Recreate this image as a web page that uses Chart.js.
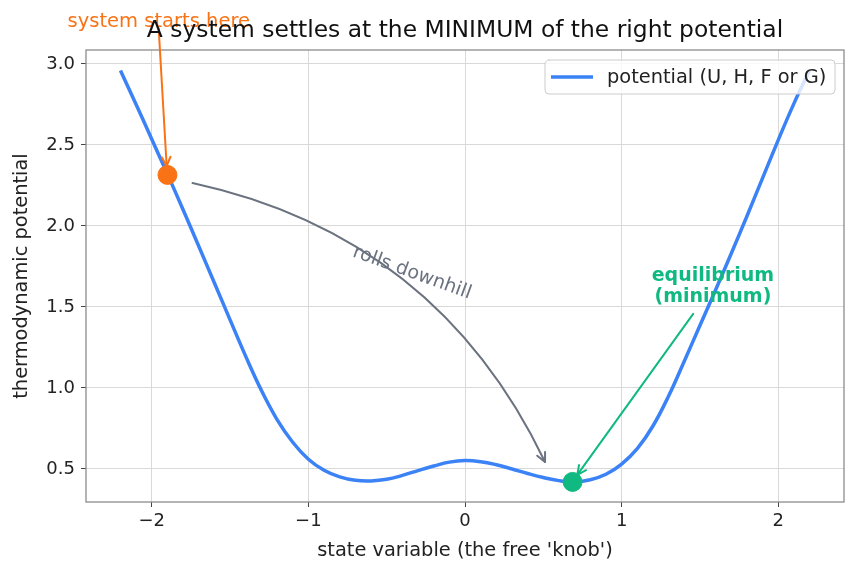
<!DOCTYPE html>
<html>
<head>
<meta charset="utf-8">
<script src="https://cdn.jsdelivr.net/npm/chart.js@4.4.1/dist/chart.umd.min.js"></script>
<style>
  body { margin: 0; background: #fff; }
  canvas { display: block; }
</style>
</head>
<body>
<canvas id="potentialChart" width="859" height="576"></canvas>
<script>
// state variable samples and the potential
const stateX = [
    -2.2, -2.1, -2.0, -1.9, -1.8, -1.7, -1.6, -1.5, -1.4, -1.3, -1.2, -1.1, -1.0,
    -0.9, -0.8, -0.7, -0.6, -0.5, -0.4, -0.3, -0.2, -0.1, 0.0,
    0.1, 0.2, 0.3, 0.4, 0.5, 0.6, 0.7, 0.8, 0.9, 1.0,
    1.1, 1.2, 1.3, 1.4, 1.5, 1.6, 1.7, 1.8, 1.9, 2.0, 2.1, 2.2
];
const potential = [
    2.96, 2.75, 2.535, 2.32, 2.10, 1.875, 1.648, 1.42, 1.195, 0.985, 0.805, 0.665, 0.56,
    0.492, 0.451, 0.43, 0.426, 0.436, 0.46, 0.49, 0.518, 0.542, 0.552,
    0.545, 0.526, 0.50, 0.472, 0.447, 0.428, 0.42, 0.433, 0.467, 0.53,
    0.625, 0.765, 0.95, 1.165, 1.385, 1.605, 1.83, 2.06, 2.295, 2.53, 2.755, 2.96
];
const startPoint = [-1.9, 2.315];
const equilibriumPoint = [0.687, 0.42];

const xTicks = [-2, -1, 0, 1, 2];
const yTicks = [0.5, 1.0, 1.5, 2.0, 2.5, 3.0];

const titleText = 'A system settles at the MINIMUM of the right potential';
const xLabel = "state variable (the free 'knob')";
const yLabel = 'thermodynamic potential';
const legendLabel = 'potential (U, H, F or G)';

const BLUE = '#3b82f6';
const ORANGE = '#f97316';
const GREEN = '#10b981';
const GRAY = '#6b7280';
const FONT = '"DejaVu Sans", "Liberation Sans", sans-serif';

function drawHead(ctx, tip, from, color) {
    const ang = Math.atan2(tip.y - from.y, tip.x - from.x);
    const len = 10, spread = 0.45;
    ctx.beginPath();
    ctx.moveTo(tip.x - len * Math.cos(ang - spread), tip.y - len * Math.sin(ang - spread));
    ctx.lineTo(tip.x, tip.y);
    ctx.lineTo(tip.x - len * Math.cos(ang + spread), tip.y - len * Math.sin(ang + spread));
    ctx.strokeStyle = color;
    ctx.stroke();
}

const annotations = {
    id: 'annotations',
    afterDatasetsDraw(chart) {
        const { ctx, chartArea: a, scales: { x, y } } = chart;
        const px = (vx, vy) => ({ x: x.getPixelForValue(vx), y: y.getPixelForValue(vy) });
        ctx.save();

        // spines on all four sides
        ctx.strokeStyle = '#8c8c8c';
        ctx.lineWidth = 1.3;
        ctx.strokeRect(a.left, a.top, a.right - a.left, a.bottom - a.top);

        ctx.lineCap = 'round';
        ctx.lineJoin = 'round';

        // orange straight arrow
        let p0 = px(-1.956, 3.22), p1 = px(-1.905, 2.37);
        ctx.lineWidth = 2;
        ctx.strokeStyle = ORANGE;
        ctx.beginPath();
        ctx.moveTo(p0.x, p0.y);
        ctx.lineTo(p1.x, p1.y);
        ctx.stroke();
        drawHead(ctx, p1, p0, ORANGE);

        // gray curved arrow
        p0 = px(-1.74, 2.265);
        p1 = px(0.511, 0.543);
        const rad = 0.245;
        const c = {
            x: (p0.x + p1.x) / 2 + rad * (p1.y - p0.y),
            y: (p0.y + p1.y) / 2 - rad * (p1.x - p0.x)
        };
        ctx.strokeStyle = GRAY;
        ctx.beginPath();
        ctx.moveTo(p0.x, p0.y);
        ctx.quadraticCurveTo(c.x, c.y, p1.x, p1.y);
        ctx.stroke();
        drawHead(ctx, p1, c, GRAY);

        // green arrow
        p0 = px(1.457, 1.457);
        p1 = px(0.717, 0.463);
        ctx.strokeStyle = GREEN;
        ctx.beginPath();
        ctx.moveTo(p0.x, p0.y);
        ctx.lineTo(p1.x, p1.y);
        ctx.stroke();
        drawHead(ctx, p1, p0, GREEN);

        // texts
        ctx.textAlign = 'center';
        ctx.textBaseline = 'middle';
        ctx.fillStyle = ORANGE;
        ctx.font = '19.5px ' + FONT;
        let t = px(-1.955, 3.26);
        ctx.fillText('system starts here', t.x, t.y);

        ctx.fillStyle = GREEN;
        ctx.font = 'bold 19px ' + FONT;
        t = px(1.583, 1.691);
        ctx.fillText('equilibrium', t.x, t.y);
        t = px(1.583, 1.562);
        ctx.fillText('(minimum)', t.x, t.y);

        ctx.fillStyle = GRAY;
        ctx.font = '19px ' + FONT;
        t = px(-0.338, 1.71);
        ctx.save();
        ctx.translate(t.x, t.y);
        ctx.rotate(20 * Math.PI / 180);
        ctx.fillText('rolls downhill', 0, 0);
        ctx.restore();

        // legend inside the plot, upper right
        const lx = 545, ly = 60, lw = 290, lh = 34;
        ctx.beginPath();
        ctx.roundRect(lx, ly, lw, lh, 4);
        ctx.fillStyle = 'rgba(255,255,255,0.8)';
        ctx.fill();
        ctx.strokeStyle = '#cccccc';
        ctx.lineWidth = 1;
        ctx.stroke();
        ctx.beginPath();
        ctx.moveTo(551, ly + lh / 2);
        ctx.lineTo(593, ly + lh / 2);
        ctx.strokeStyle = BLUE;
        ctx.lineWidth = 3.5;
        ctx.lineCap = 'butt';
        ctx.stroke();
        ctx.fillStyle = '#222';
        ctx.font = '19.4px ' + FONT;
        ctx.textAlign = 'left';
        ctx.fillText(legendLabel, 607, ly + lh / 2 + 1);

        // title and axis labels
        ctx.textAlign = 'center';
        ctx.fillStyle = '#111';
        ctx.font = '23.4px ' + FONT;
        ctx.fillText(titleText, (a.left + a.right) / 2, 31);
        ctx.fillStyle = '#222';
        ctx.font = '19.4px ' + FONT;
        ctx.fillText(xLabel, (a.left + a.right) / 2, 551);
        ctx.save();
        ctx.translate(22, (a.top + a.bottom) / 2);
        ctx.rotate(-Math.PI / 2);
        ctx.fillText(yLabel, 0, 0);
        ctx.restore();

        ctx.restore();
    }
};

new Chart(document.getElementById('potentialChart'), {
    type: 'scatter',
    data: {
        datasets: [
            {
                label: 'start',
                data: [{ x: startPoint[0], y: startPoint[1] }],
                backgroundColor: ORANGE,
                borderColor: ORANGE,
                pointRadius: 9.5,
                order: 0
            },
            {
                label: 'equilibrium',
                data: [{ x: equilibriumPoint[0], y: equilibriumPoint[1] }],
                backgroundColor: GREEN,
                borderColor: GREEN,
                pointRadius: 9.5,
                order: 0
            },
            {
                label: legendLabel,
                data: stateX.map((v, i) => ({ x: v, y: potential[i] })),
                showLine: true,
                borderColor: BLUE,
                borderWidth: 3.5,
                pointRadius: 0,
                tension: 0.4,
                order: 1
            }
        ]
    },
    options: {
        responsive: false,
        animation: false,
        layout: { padding: { top: 50, right: 15, left: 0, bottom: 0 } },
        plugins: {
            legend: { display: false },
            tooltip: { enabled: false }
        },
        scales: {
            x: {
                type: 'linear',
                min: -2.42,
                max: 2.42,
                afterFit: (scale) => { scale.height = 74; },
                afterBuildTicks: (scale) => { scale.ticks = xTicks.map(v => ({ value: v })); },
                ticks: {
                    font: { family: FONT, size: 18 },
                    color: '#222',
                    padding: 4,
                    callback: (v) => v < 0 ? '\u2212' + Math.abs(v) : String(v)
                },
                grid: { color: '#d9d9d9', lineWidth: 1, tickLength: 5, tickColor: '#444' },
                border: { display: false }
            },
            y: {
                min: 0.296,
                max: 3.086,
                afterFit: (scale) => { scale.width = 86; },
                afterBuildTicks: (scale) => { scale.ticks = yTicks.map(v => ({ value: v })); },
                ticks: {
                    font: { family: FONT, size: 18 },
                    color: '#222',
                    padding: 6,
                    callback: (v) => Number(v).toFixed(1)
                },
                grid: { color: '#d9d9d9', lineWidth: 1, tickLength: 5, tickColor: '#444' },
                border: { display: false }
            }
        }
    },
    plugins: [annotations]
});
</script>
</body>
</html>
